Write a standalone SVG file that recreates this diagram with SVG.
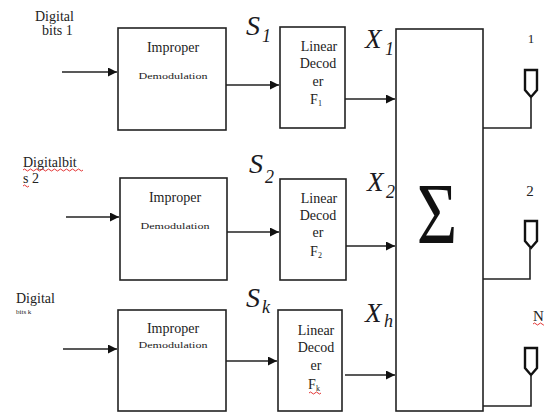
<svg xmlns="http://www.w3.org/2000/svg" width="544" height="414" viewBox="0 0 544 414">
<style>
.box{fill:#fff;stroke:#222;stroke-width:1.6}
.ln{fill:none;stroke:#222;stroke-width:1.6}
.t{font-family:"Liberation Serif","Times New Roman",serif;fill:#222}
.imp{font-size:14px;text-anchor:middle}
.dem{font-size:8.5px;text-anchor:middle}
.dec{font-size:14px;text-anchor:middle}
.in{font-size:14px}
.m{font-family:"Liberation Serif","Times New Roman",serif;font-style:italic;fill:#1a1a22}
.pent{fill:#fff;stroke:#111;stroke-width:2.4;stroke-linejoin:miter}
.sq{fill:none;stroke:#e02020;stroke-width:0.9}
</style>
<defs>
<marker id="ah" viewBox="0 0 10 10" refX="10" refY="5" markerWidth="10" markerHeight="9" markerUnits="userSpaceOnUse" orient="auto">
<path d="M0,0 L10,5 L0,10 z" fill="#111"/>
</marker>
</defs>

<g id="inputs">
<text class="t in" x="35" y="21">Digital</text>
<text class="t in" x="42" y="35">bits 1</text>
<text class="t in" x="23" y="167">Digitalbit</text>
<text class="t in" x="23" y="183">s 2</text>
<path class="sq" d="M23,170 q1.5,-2 3,0 t3,0 t3,0 t3,0 t3,0 t3,0 t3,0 t3,0 t3,0 t3,0 t3,0 t3,0 t3,0 t3,0 t3,0 t3,0 t3,0 t3,0 t3,0 t3,0 M23,186 q1.5,-2 3,0 t3,0"/>
<text class="t in" x="16" y="303">Digital</text>
<text class="t" x="16" y="314" font-size="7">bits k</text>
</g>

<g id="demod1">
<rect class="box" x="118" y="28" width="108" height="102"/>
<text class="t imp" x="173" y="52">Improper</text>
<text class="t dem" x="173" y="79" textLength="69" lengthAdjust="spacingAndGlyphs">Demodulation</text>
</g>
<g id="demod2">
<rect class="box" x="120" y="178" width="107" height="102"/>
<text class="t imp" x="175" y="202">Improper</text>
<text class="t dem" x="175" y="229" textLength="69" lengthAdjust="spacingAndGlyphs">Demodulation</text>
</g>
<g id="demod3">
<rect class="box" x="118" y="310" width="108" height="101"/>
<text class="t imp" x="173" y="333">Improper</text>
<text class="t dem" x="173" y="348" textLength="69" lengthAdjust="spacingAndGlyphs">Demodulation</text>
</g>

<g id="decoder1">
<rect class="box" x="280" y="27" width="65" height="101"/>
<text class="t dec" x="319" y="51">Linear</text>
<text class="t dec" x="318" y="68">Decod</text>
<text class="t dec" x="318" y="86">er</text>
<text class="t dec" x="316" y="104">F<tspan font-size="8" dy="2">1</tspan></text>
</g>
<g id="decoder2">
<rect class="box" x="280" y="179" width="66" height="101"/>
<text class="t dec" x="319" y="203">Linear</text>
<text class="t dec" x="318" y="220">Decod</text>
<text class="t dec" x="318" y="237">er</text>
<text class="t dec" x="316" y="256">F<tspan font-size="8" dy="2">2</tspan></text>
</g>
<g id="decoder3">
<rect class="box" x="278" y="310" width="64" height="101"/>
<text class="t dec" x="316" y="335">Linear</text>
<text class="t dec" x="316" y="352">Decod</text>
<text class="t dec" x="316" y="370">er</text>
<text class="t dec" x="314" y="389">F<tspan font-size="8" dy="2">k</tspan></text>
<path class="sq" d="M309,393 q1.5,-2 3,0 t3,0 t3,0 t3,0"/>
</g>

<g id="sum">
<rect class="box" x="396" y="29" width="87" height="382"/>
<text x="0" y="0" transform="translate(437,243) scale(0.8,1)" font-family="Liberation Serif,Times New Roman,serif" font-size="87" text-anchor="middle" fill="#111">Σ</text>
</g>

<g id="labels">
<text class="m" x="246" y="35" font-size="28">S</text>
<text class="m" x="262" y="42" font-size="18" font-style="normal">1</text>
<text class="m" x="249" y="173" font-size="28">S</text>
<text class="m" x="265" y="183" font-size="18" font-style="normal">2</text>
<text class="m" x="246" y="307" font-size="28">S</text>
<text class="m" x="262" y="313" font-size="18">k</text>
<text class="m" x="365" y="48" font-size="27">X</text>
<text class="m" x="385" y="55" font-size="18" font-style="normal">1</text>
<text class="m" x="367" y="191" font-size="27">X</text>
<text class="m" x="386" y="198" font-size="18" font-style="normal">2</text>
<text class="m" x="365" y="322" font-size="27">X</text>
<text class="m" x="384" y="327" font-size="18">h</text>
</g>

<g id="outputs">
<text class="t" x="531" y="43" font-size="13" text-anchor="middle">1</text>
<polygon class="pent" points="525,70 537,70 537,90 531,97 525,90"/>
<text class="t" x="530" y="196" font-size="15" text-anchor="middle">2</text>
<polygon class="pent" points="525,221 537,221 537,241 531,248 525,241"/>
<text class="t" x="533" y="321" font-size="15">N</text>
<path class="sq" d="M533,324 q1.5,-2 3,0 t3,0 t3,0 t3,0"/>
<polygon class="pent" points="525,348 537,348 537,368 531,375 525,368"/>
</g>

<g id="connectors">
<line class="ln" x1="62" y1="72" x2="117" y2="72" marker-end="url(#ah)"/>
<line class="ln" x1="66" y1="217" x2="119" y2="217" marker-end="url(#ah)"/>
<line class="ln" x1="63" y1="349" x2="117" y2="349" marker-end="url(#ah)"/>
<line class="ln" x1="226" y1="85" x2="279" y2="85" marker-end="url(#ah)"/>
<line class="ln" x1="227" y1="232" x2="279" y2="232" marker-end="url(#ah)"/>
<line class="ln" x1="226" y1="361" x2="277" y2="361" marker-end="url(#ah)"/>
<line class="ln" x1="345" y1="99" x2="395" y2="99" marker-end="url(#ah)"/>
<line class="ln" x1="346" y1="246" x2="395" y2="246" marker-end="url(#ah)"/>
<line class="ln" x1="345" y1="375" x2="395" y2="375" marker-end="url(#ah)"/>
<polyline class="ln" points="483,128 531,128 531,97"/>
<polyline class="ln" points="483,279 530,279 530,248"/>
<polyline class="ln" points="483,406 531,406 531,375"/>
</g>
</svg>
